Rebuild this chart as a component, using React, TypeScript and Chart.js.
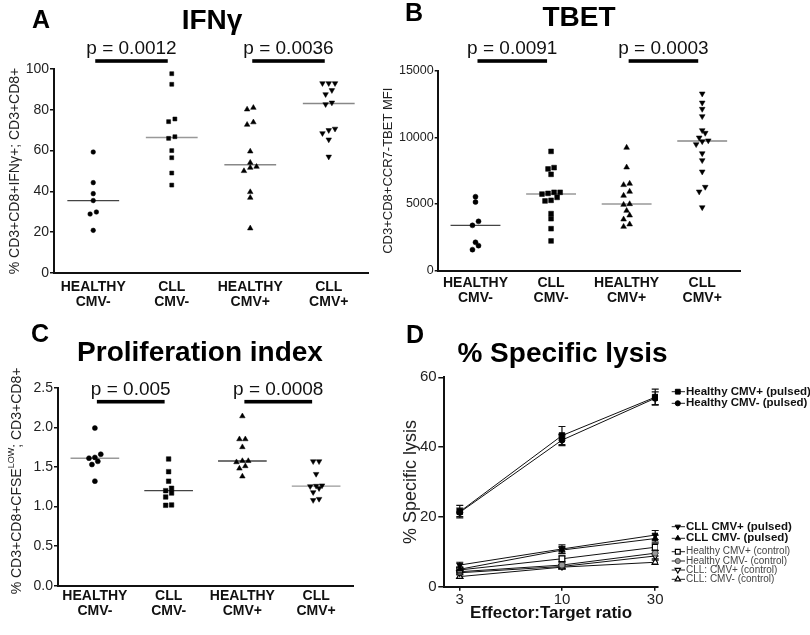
import React, { useEffect, useRef } from 'react';
import { Chart, registerables } from 'chart.js';
import { drawPoint } from 'chart.js/helpers';

Chart.register(...registerables);

const FONT = "'Liberation Sans', Arial, Helvetica, sans-serif";
Chart.defaults.font.family = FONT;
Chart.defaults.color = '#222';

// ---------------- data ----------------
const groupLabels = [['HEALTHY', 'CMV-'], ['CLL', 'CMV-'], ['HEALTHY', 'CMV+'], ['CLL', 'CMV+']];
const comparisons: [number, number][] = [[0, 1], [2, 3]];

// A: IFNγ
const ifngHealthyNeg = [59.3, 44.3, 38.9, 35.5, 29.9, 28.9, 20.9];
const ifngCllNeg = [97.7, 92.5, 75.5, 74.2, 66.8, 66.0, 60.0, 56.5, 49.0, 43.1];
const ifngHealthyPos = [81.0, 80.2, 73.9, 72.7, 59.6, 54.1, 52.1, 51.6, 50.0, 39.7, 36.9, 21.9];
const ifngCllPos = [93, 93, 93, 89.6, 87.6, 83.5, 82.7, 70.7, 70.0, 68.5, 65.4, 57.0];
const ifngTicks = [0, 20, 40, 60, 80, 100];
const ifngP = ['p = 0.0012', 'p = 0.0036'];

// B: TBET
const tbetHealthyNeg = [5550, 5150, 3700, 3400, 2130, 1880, 1580];
const tbetCllNeg = [8950, 7730, 7630, 7230, 5880, 5880, 5800, 5750, 5500, 5280, 5230, 4280, 3900, 3150, 2230];
const tbetHealthyPos = [9230, 7750, 6530, 6430, 5930, 5630, 5000, 4950, 4500, 4150, 3850, 3480, 3300];
const tbetCllPos = [13280, 12600, 12130, 11580, 10530, 10330, 9980, 9760, 9700, 9480, 8800, 8280, 7430, 6280, 5930, 4750];
const tbetTicks = [0, 5000, 10000, 15000];
const tbetP = ['p = 0.0091', 'p = 0.0003'];

// C: Proliferation index
const prolifHealthyNeg = [1.99, 1.66, 1.62, 1.61, 1.57, 1.53, 1.32];
const prolifCllNeg = [1.60, 1.44, 1.32, 1.23, 1.20, 1.17, 1.12, 1.02, 1.015];
const prolifHealthyPos = [2.14, 1.85, 1.85, 1.75, 1.575, 1.575, 1.56, 1.51, 1.48, 1.38];
const prolifCllPos = [1.57, 1.57, 1.41, 1.265, 1.26, 1.255, 1.23, 1.18, 1.095, 1.08];
const prolifTicks = [0, 0.5, 1.0, 1.5, 2.0, 2.5];
const prolifP = ['p = 0.005', 'p = 0.0008'];

// D: % Specific lysis
const ratioTicks = [3, 10, 30];
const lysisYTicks = [0, 20, 40, 60];
const lysisLabels = [
  'Healthy CMV+ (pulsed)',
  'Healthy CMV- (pulsed)',
  'CLL CMV+ (pulsed)',
  'CLL CMV- (pulsed)',
  'Healthy CMV+ (control)',
  'Healthy CMV- (control)',
  'CLL: CMV+ (control)',
  'CLL: CMV- (control)',
];
const healthyPosPulsed = [21.5, 43.3, 54.3];
const healthyNegPulsed = [21.3, 42.0, 54.0];
const cllPosPulsed = [6.2, 10.8, 14.8];
const cllNegPulsed = [5.0, 10.5, 13.8];
const healthyPosCtrl = [4.8, 8.0, 11.3];
const healthyNegCtrl = [4.3, 6.2, 9.6];
const cllPosCtrl = [4.0, 5.8, 8.8];
const cllNegCtrl = [2.9, 5.6, 7.0];
const healthyPosPulsedErr = [1.8, 2.6, 2.3];
const healthyNegPulsedErr = [1.2, 1.6, 1.8];
const cllPosPulsedErr = [0.8, 1.2, 1.3];
const cllNegPulsedErr = [0.6, 1.0, 1.0];
const healthyPosCtrlErr = [0.6, 0.8, 1.0];
const healthyNegCtrlErr = [0.5, 0.6, 0.8];
const cllPosCtrlErr = [0.5, 0.6, 0.8];
const cllNegCtrlErr = [0.5, 0.5, 0.6];

// ---------------- helpers ----------------
function median(vals: number[]) {
  const s = [...vals].sort((a, b) => a - b);
  const n = s.length;
  return n % 2 ? s[(n - 1) / 2] : (s[n / 2 - 1] + s[n / 2]) / 2;
}

// GraphPad-like column scatter: values closer than tol share a row and spread sideways
function swarmOffsets(values: number[], tol: number, step: number) {
  const idx = values.map((_, i) => i).sort((a, b) => values[a] - values[b]);
  const offs = new Array(values.length).fill(0);
  let k = 0;
  while (k < idx.length) {
    const start = values[idx[k]];
    let e = k;
    while (e + 1 < idx.length && values[idx[e + 1]] - start < tol) e++;
    const n = e - k + 1;
    for (let j = 0; j < n; j++) offs[idx[k + j]] = (j - (n - 1) / 2) * step;
    k = e + 1;
  }
  return offs;
}

const MARKERS = [
  { style: 'circle', rotation: 0 },
  { style: 'rect', rotation: 0 },
  { style: 'triangle', rotation: 0 },
  { style: 'triangle', rotation: 180 },
];

type Box = { left: number; top: number; width: number; height: number };

type Decor = {
  letter: { text: string; x: number; y: number };
  title: { text: string; x: number; y: number };
  pTexts?: string[];
  pTextY?: number;
  pBarY?: number;
  yTitleParts?: { x: number; y: number; parts: { text: string; size: number; rise: number }[] };
};

function makeDecorPlugin(d: Decor) {
  return {
    id: 'decor',
    afterDraw(chart: any) {
      const ctx = chart.ctx as CanvasRenderingContext2D;
      ctx.save();
      ctx.fillStyle = '#000';
      ctx.textAlign = 'center';
      ctx.textBaseline = 'middle';
      ctx.font = `bold 25px ${FONT}`;
      ctx.fillText(d.letter.text, d.letter.x, d.letter.y);
      ctx.font = `bold 28px ${FONT}`;
      ctx.fillText(d.title.text, d.title.x, d.title.y);
      if (d.pTexts) {
        const xs = chart.scales.x;
        d.pTexts.forEach((t, i) => {
          const [a, b] = comparisons[i];
          const x1 = xs.getPixelForValue(a) + 2;
          const x2 = xs.getPixelForValue(b) - 4;
          ctx.fillRect(x1, (d.pBarY as number) - 1.8, x2 - x1, 3.6);
          ctx.font = `19px ${FONT}`;
          ctx.fillStyle = '#111';
          ctx.fillText(t, (x1 + x2) / 2, d.pTextY as number);
          ctx.fillStyle = '#000';
        });
      }
      if (d.yTitleParts) {
        const yt = d.yTitleParts;
        ctx.translate(yt.x, yt.y);
        ctx.rotate(-Math.PI / 2);
        ctx.fillStyle = '#222';
        let total = 0;
        yt.parts.forEach((p) => {
          ctx.font = `${p.size}px ${FONT}`;
          total += ctx.measureText(p.text).width;
        });
        let x = -total / 2;
        ctx.textAlign = 'left';
        yt.parts.forEach((p) => {
          ctx.font = `${p.size}px ${FONT}`;
          ctx.fillText(p.text, x, -p.rise);
          x += ctx.measureText(p.text).width;
        });
      }
      ctx.restore();
    },
  };
}

type DotPanel = {
  box: Box;
  yWidth: number;
  padRight: number;
  top: number;
  xHeight: number;
  groups: number[][];
  yTicks: number[];
  decimals: number;
  tickFont: number;
  tickLength: number;
  tickPad: number;
  xLabelPad: number;
  yTitle?: { text: string; size: number; pad: number };
  pointRadius: number[];
  medianColors: string[];
  decor: Decor;
};

function makeDotChart(canvas: HTMLCanvasElement, p: DotPanel) {
  const range = p.yTicks[p.yTicks.length - 1] - p.yTicks[0];
  const datasets: any[] = [];
  p.groups.forEach((vals, i) => {
    const offs = swarmOffsets(vals, range * 0.025, 0.08);
    datasets.push({
      label: groupLabels[i].join(' '),
      data: vals.map((v, k) => ({ x: i + offs[k], y: v })),
      pointStyle: MARKERS[i].style,
      pointRotation: MARKERS[i].rotation,
      pointRadius: p.pointRadius[i],
      pointBackgroundColor: '#000',
      pointBorderColor: '#000',
      pointBorderWidth: 0.5,
      showLine: false,
    });
  });
  p.groups.forEach((vals, i) => {
    const m = median(vals);
    datasets.push({
      label: 'median',
      data: [{ x: i - 0.33, y: m }, { x: i + 0.33, y: m }],
      showLine: true,
      borderColor: p.medianColors[i],
      borderWidth: 1.4,
      pointRadius: 0,
    });
  });
  return new Chart(canvas, {
    type: 'scatter',
    data: { datasets },
    plugins: [makeDecorPlugin(p.decor)],
    options: {
      animation: false,
      responsive: false,
      events: [],
      layout: { padding: { left: 0, right: p.padRight, top: p.top, bottom: 0 } },
      plugins: { legend: { display: false }, tooltip: { enabled: false } },
      scales: {
        x: {
          type: 'linear',
          min: -0.5,
          max: 3.5,
          afterBuildTicks: (s: any) => {
            s.ticks = groupLabels.map((_, i) => ({ value: i }));
          },
          afterFit: (s: any) => {
            s.height = p.xHeight;
          },
          ticks: {
            callback: (v: any) => groupLabels[v as number],
            font: { size: 14, weight: 'bold', lineHeight: 1.1 },
            color: '#111',
            padding: p.xLabelPad,
            maxRotation: 0,
            autoSkip: false,
          },
          grid: { display: false, drawTicks: false, tickLength: 0 },
          border: { display: true, color: '#111', width: 2 },
        },
        y: {
          min: p.yTicks[0],
          max: p.yTicks[p.yTicks.length - 1],
          afterBuildTicks: (s: any) => {
            s.ticks = p.yTicks.map((v) => ({ value: v }));
          },
          afterFit: (s: any) => {
            s.width = p.yWidth;
          },
          ticks: {
            callback: (v: any) => Number(v).toFixed(p.decimals),
            font: { size: p.tickFont },
            color: '#222',
            padding: p.tickPad,
          },
          grid: {
            display: true,
            drawOnChartArea: false,
            drawTicks: true,
            tickLength: p.tickLength,
            color: '#111',
            lineWidth: 1.5,
          },
          border: { display: true, color: '#111', width: 2 },
          title: p.yTitle
            ? {
                display: true,
                text: p.yTitle.text,
                font: { size: p.yTitle.size },
                color: '#222',
                padding: { top: p.yTitle.pad, bottom: 0 },
              }
            : { display: false },
        },
      },
    } as any,
  });
}

const panelA: DotPanel = {
  box: { left: 0, top: 0, width: 400, height: 318 },
  yWidth: 54,
  padRight: 32,
  top: 69,
  xHeight: 45,
  groups: [ifngHealthyNeg, ifngCllNeg, ifngHealthyPos, ifngCllPos],
  yTicks: ifngTicks,
  decimals: 0,
  tickFont: 14,
  tickLength: 4,
  tickPad: 1,
  xLabelPad: 6.3,
  yTitle: { text: '% CD3+CD8+IFNγ+; CD3+CD8+', size: 14, pad: 6.6 },
  pointRadius: [2.3, 2.8, 3.2, 3.2],
  medianColors: ['#444', '#999', '#888', '#888'],
  decor: {
    letter: { text: 'A', x: 41, y: 21 },
    title: { text: 'IFNγ', x: 212, y: 21 },
    pTexts: ifngP,
    pTextY: 49,
    pBarY: 61,
  },
};

const panelB: DotPanel = {
  box: { left: 375, top: 0, width: 435, height: 318 },
  yWidth: 62.7,
  padRight: 70,
  top: 70.7,
  xHeight: 47.3,
  groups: [tbetHealthyNeg, tbetCllNeg, tbetHealthyPos, tbetCllPos],
  yTicks: tbetTicks,
  decimals: 0,
  tickFont: 12.5,
  tickLength: 3,
  tickPad: 1,
  xLabelPad: 4.6,
  yTitle: { text: 'CD3+CD8+CCR7-TBET MFI', size: 13, pad: 5.2 },
  pointRadius: [2.5, 3.4, 3.3, 3.3],
  medianColors: ['#444', '#999', '#999', '#888'],
  decor: {
    letter: { text: 'B', x: 39, y: 14 },
    title: { text: 'TBET', x: 204, y: 18.5 },
    pTexts: tbetP,
    pTextY: 48.5,
    pBarY: 61,
  },
};

const panelC: DotPanel = {
  box: { left: 0, top: 318, width: 400, height: 317 },
  yWidth: 58,
  padRight: 47,
  top: 69.7,
  xHeight: 49.3,
  groups: [prolifHealthyNeg, prolifCllNeg, prolifHealthyPos, prolifCllPos],
  yTicks: prolifTicks,
  decimals: 1,
  tickFont: 14,
  tickLength: 4,
  tickPad: 1,
  xLabelPad: 2.6,
  pointRadius: [2.5, 3.2, 3.2, 3.2],
  medianColors: ['#999', '#444', '#444', '#999'],
  decor: {
    letter: { text: 'C', x: 40, y: 17 },
    title: { text: 'Proliferation index', x: 200, y: 35.5 },
    pTexts: prolifP,
    pTextY: 72,
    pBarY: 83.7,
    yTitleParts: {
      x: 17,
      y: 163,
      parts: [
        { text: '% CD3+CD8+CFSE', size: 14, rise: 0 },
        { text: 'LOW', size: 9, rise: 5 },
        { text: '; CD3+CD8+', size: 14, rise: 0 },
      ],
    },
  },
};

const lysisSeries = [
  healthyPosPulsed, healthyNegPulsed, cllPosPulsed, cllNegPulsed,
  healthyPosCtrl, healthyNegCtrl, cllPosCtrl, cllNegCtrl,
];
const lysisErrors = [
  healthyPosPulsedErr, healthyNegPulsedErr, cllPosPulsedErr, cllNegPulsedErr,
  healthyPosCtrlErr, healthyNegCtrlErr, cllPosCtrlErr, cllNegCtrlErr,
];
const lysisStyles = [
  { style: 'rect', rotation: 0, radius: 4, fill: '#000', border: '#000', bw: 1 },
  { style: 'circle', rotation: 0, radius: 3, fill: '#000', border: '#000', bw: 1 },
  { style: 'triangle', rotation: 180, radius: 3.6, fill: '#000', border: '#000', bw: 1 },
  { style: 'triangle', rotation: 0, radius: 3.6, fill: '#000', border: '#000', bw: 1 },
  { style: 'rect', rotation: 0, radius: 4, fill: '#fff', border: '#000', bw: 1.2 },
  { style: 'circle', rotation: 0, radius: 3, fill: '#999', border: '#444', bw: 1 },
  { style: 'triangle', rotation: 180, radius: 3.6, fill: '#fff', border: '#000', bw: 1.2 },
  { style: 'triangle', rotation: 0, radius: 3.6, fill: '#fff', border: '#000', bw: 1.2 },
];
const lysisLegendRows = [
  { y: 73.7, bold: true },
  { y: 85.3, bold: true },
  { y: 208.7, bold: true },
  { y: 220.3, bold: true },
  { y: 233.7, bold: false },
  { y: 243, bold: false },
  { y: 252, bold: false },
  { y: 261.3, bold: false },
];

const errorBarPlugin = {
  id: 'errorBars',
  beforeDatasetsDraw(chart: any) {
    const ctx = chart.ctx as CanvasRenderingContext2D;
    const ys = chart.scales.y;
    ctx.save();
    ctx.strokeStyle = '#111';
    ctx.lineWidth = 1.2;
    chart.data.datasets.forEach((ds: any, i: number) => {
      const meta = chart.getDatasetMeta(i);
      meta.data.forEach((pt: any, j: number) => {
        const v = ds.data[j].y;
        const e = ds.errors[j];
        const yT = ys.getPixelForValue(v + e);
        const yB = ys.getPixelForValue(v - e);
        ctx.beginPath();
        ctx.moveTo(pt.x, yT);
        ctx.lineTo(pt.x, yB);
        ctx.moveTo(pt.x - 3.5, yT);
        ctx.lineTo(pt.x + 3.5, yT);
        ctx.moveTo(pt.x - 3.5, yB);
        ctx.lineTo(pt.x + 3.5, yB);
        ctx.stroke();
      });
    });
    ctx.restore();
  },
};

const lysisLegendPlugin = {
  id: 'lysisLegend',
  afterDraw(chart: any) {
    const ctx = chart.ctx as CanvasRenderingContext2D;
    lysisLegendRows.forEach((row, i) => {
      const ds = chart.data.datasets[i];
      ctx.save();
      ctx.strokeStyle = '#222';
      ctx.lineWidth = 1;
      ctx.beginPath();
      ctx.moveTo(271.7, row.y);
      ctx.lineTo(285, row.y);
      ctx.stroke();
      ctx.fillStyle = ds.pointBackgroundColor;
      ctx.strokeStyle = ds.pointBorderColor;
      ctx.lineWidth = ds.pointBorderWidth;
      drawPoint(
        ctx,
        {
          pointStyle: ds.pointStyle,
          rotation: ds.pointRotation,
          radius: ds.pointRadius * 0.85,
          borderWidth: ds.pointBorderWidth,
        } as any,
        277.8,
        row.y
      );
      ctx.fillStyle = row.bold ? '#111' : '#444';
      ctx.font = row.bold ? `bold 11.5px ${FONT}` : `10px ${FONT}`;
      ctx.textAlign = 'left';
      ctx.textBaseline = 'middle';
      ctx.fillText(ds.label, 286, row.y);
      ctx.restore();
    });
  },
};

const lysisBox: Box = { left: 400, top: 318, width: 410, height: 317 };

function makeLysisChart(canvas: HTMLCanvasElement) {
  const datasets = lysisSeries.map((vals, i) => {
    const st = lysisStyles[i];
    return {
      label: lysisLabels[i],
      data: vals.map((v, k) => ({ x: ratioTicks[k], y: v })),
      errors: lysisErrors[i],
      borderColor: '#111',
      borderWidth: 1,
      tension: 0,
      pointStyle: st.style,
      pointRotation: st.rotation,
      pointRadius: st.radius,
      pointBackgroundColor: st.fill,
      pointBorderColor: st.border,
      pointBorderWidth: st.bw,
    };
  });
  return new Chart(canvas, {
    type: 'line',
    data: { datasets } as any,
    plugins: [
      errorBarPlugin,
      lysisLegendPlugin,
      makeDecorPlugin({
        letter: { text: 'D', x: 15, y: 18 },
        title: { text: '% Specific lysis', x: 162.5, y: 36 },
      }),
    ],
    options: {
      animation: false,
      responsive: false,
      events: [],
      layout: { padding: { left: 0, right: 152, top: 59.3, bottom: 0 } },
      plugins: { legend: { display: false }, tooltip: { enabled: false } },
      scales: {
        x: {
          type: 'logarithmic',
          min: 2.5,
          max: 31,
          afterBuildTicks: (s: any) => {
            s.ticks = ratioTicks.map((v) => ({ value: v }));
          },
          afterFit: (s: any) => {
            s.height = 48.3;
          },
          ticks: {
            callback: (v: any) => String(v),
            font: { size: 15 },
            color: '#222',
            padding: 0,
            autoSkip: false,
            maxRotation: 0,
          },
          grid: { display: true, drawOnChartArea: false, drawTicks: true, tickLength: 4, color: '#111', lineWidth: 1.5 },
          border: { display: true, color: '#111', width: 2 },
          title: {
            display: true,
            text: 'Effector:Target ratio',
            font: { size: 17, weight: 'bold' },
            color: '#111',
            padding: { top: 0, bottom: 11.8 },
          },
        },
        y: {
          min: 0,
          max: 60,
          afterBuildTicks: (s: any) => {
            s.ticks = lysisYTicks.map((v) => ({ value: v }));
          },
          afterFit: (s: any) => {
            s.width = 44.3;
          },
          ticks: { font: { size: 15 }, color: '#222', padding: 1.6 },
          grid: { display: true, drawOnChartArea: false, drawTicks: true, tickLength: 6, color: '#111', lineWidth: 1.5 },
          border: { display: true, color: '#111', width: 2 },
          title: {
            display: true,
            text: '% Specific lysis',
            font: { size: 18 },
            color: '#222',
            padding: { top: 0.7, bottom: 0 },
          },
        },
      },
    } as any,
  });
}

function ChartCanvas({ box, make }: { box: Box; make: (c: HTMLCanvasElement) => Chart }) {
  const ref = useRef<HTMLCanvasElement>(null);
  useEffect(() => {
    const chart = make(ref.current as HTMLCanvasElement);
    return () => chart.destroy();
  }, []);
  return (
    <canvas
      ref={ref}
      width={box.width}
      height={box.height}
      style={{ position: 'absolute', left: box.left, top: box.top, width: box.width, height: box.height }}
    />
  );
}

export default function App() {
  return (
    <div style={{ position: 'fixed', left: 0, top: 0, width: 810, height: 635, background: '#fff', overflow: 'hidden' }}>
      <ChartCanvas box={panelA.box} make={(c) => makeDotChart(c, panelA)} />
      <ChartCanvas box={panelB.box} make={(c) => makeDotChart(c, panelB)} />
      <ChartCanvas box={panelC.box} make={(c) => makeDotChart(c, panelC)} />
      <ChartCanvas box={lysisBox} make={makeLysisChart} />
    </div>
  );
}
